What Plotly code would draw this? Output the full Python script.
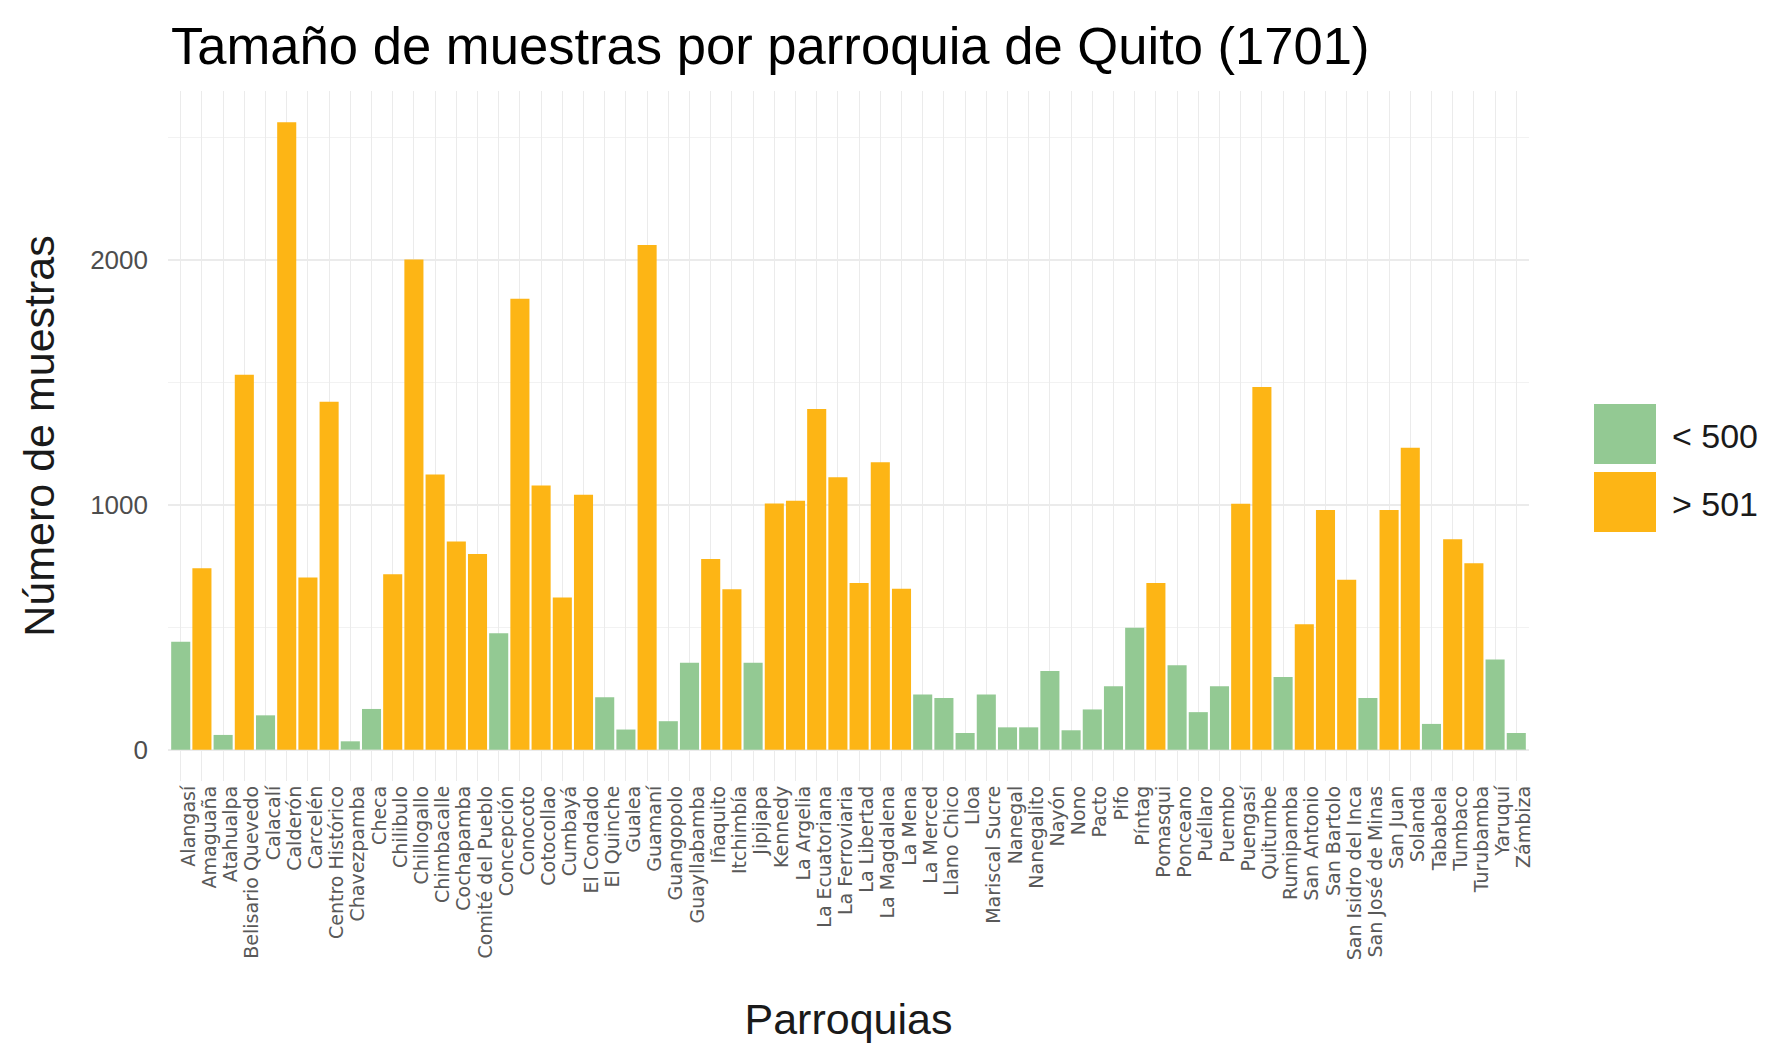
import plotly.graph_objects as go

# ---------------------------------------------------------------------------
# Datos
# ---------------------------------------------------------------------------

parroquias = [
    "Alangasí", "Amaguaña", "Atahualpa", "Belisario Quevedo", "Calacalí",
    "Calderón", "Carcelén", "Centro Histórico", "Chavezpamba", "Checa",
    "Chilibulo", "Chillogallo", "Chimbacalle", "Cochapamba", "Comité del Pueblo",
    "Concepción", "Conocoto", "Cotocollao", "Cumbayá", "El Condado",
    "El Quinche", "Gualea", "Guamaní", "Guangopolo", "Guayllabamba",
    "Iñaquito", "Itchimbía", "Jipijapa", "Kennedy", "La Argelia",
    "La Ecuatoriana", "La Ferroviaria", "La Libertad", "La Magdalena", "La Mena",
    "La Merced", "Llano Chico", "Lloa", "Mariscal Sucre", "Nanegal",
    "Nanegalito", "Nayón", "Nono", "Pacto", "Pifo",
    "Píntag", "Pomasqui", "Ponceano", "Puéllaro", "Puembo",
    "Puengasí", "Quitumbe", "Rumipamba", "San Antonio", "San Bartolo",
    "San Isidro del Inca", "San José de Minas", "San Juan", "Solanda", "Tababela",
    "Tumbaco", "Turubamba", "Yaruquí", "Zámbiza",
]

muestras = [
    440, 740, 60, 1530, 140,
    2560, 703, 1420, 34, 166,
    716, 2000, 1123, 849, 798,
    475, 1840, 1078, 621, 1040,
    214, 82, 2060, 116, 355,
    778, 655, 355, 1005, 1016,
    1390, 1112, 680, 1173, 657,
    225, 211, 68, 225, 91,
    91, 321, 79, 164, 259,
    497, 680, 344, 153, 259,
    1003, 1480, 296, 512, 978,
    693, 211, 978, 1232, 105,
    859, 761, 368, 68,
]

y_ticks = [0, 1000, 2000]
y_minor = [500, 1500, 2500]

leyenda_etiquetas = ["< 500", "> 501"]

# ---------------------------------------------------------------------------
# Estilo
# ---------------------------------------------------------------------------

VERDE = "#93C993"
NARANJA = "#FDB515"
GRID = "#EBEBEB"
UMBRAL = 500

W, H = 1775, 1043
PLOT_L, PLOT_R, PLOT_T, PLOT_B = 160, 1521, 83, 773


def px_x(px):
    return (px - PLOT_L) / (PLOT_R - PLOT_L)


def px_y(py):
    return (PLOT_B - py) / (PLOT_B - PLOT_T)


colores = [VERDE if m < UMBRAL else NARANJA for m in muestras]
ymax = max(muestras)

fig = go.Figure(
    go.Bar(
        x=parroquias,
        y=muestras,
        marker=dict(color=colores, line_width=0),
        showlegend=False,
        hovertemplate="%{x}: %{y}<extra></extra>",
    )
)

# --- Leyenda dibujada a mano (claves grandes como en ggplot) ---
leyenda_colores = [VERDE, NARANJA]
caja_top = [396, 464]
for etiqueta, color, top in zip(leyenda_etiquetas, leyenda_colores, caja_top):
    fig.add_shape(
        type="rect", xref="paper", yref="paper",
        x0=px_x(1586), x1=px_x(1648), y0=px_y(top + 60), y1=px_y(top),
        fillcolor=color, line_width=0,
    )
    fig.add_annotation(
        xref="paper", yref="paper",
        x=px_x(1662), y=px_y(top + 32),
        text=etiqueta, showarrow=False,
        xanchor="left", yanchor="middle",
        font=dict(family="Liberation Sans, Arial", size=34, color="#1A1A1A"),
    )

fig.update_layout(
    width=W,
    height=H,
    margin=dict(l=PLOT_L, r=W - PLOT_R, t=PLOT_T, b=H - PLOT_B),
    paper_bgcolor="white",
    plot_bgcolor="white",
    bargap=0.1,
    font=dict(family="Liberation Sans, Arial", color="#1A1A1A"),
    title=dict(
        text="Tamaño de muestras por parroquia de Quito (1701)",
        x=163 / W, xanchor="left", xref="container",
        y=1 - 38 / H, yanchor="middle", yref="container",
        font=dict(size=52.6, color="#000000"),
    ),
    xaxis=dict(
        type="category",
        categoryorder="array",
        categoryarray=parroquias,
        range=[-0.6, len(parroquias) - 0.4],
        tickmode="array",
        tickvals=parroquias,
        ticktext=parroquias,
        showgrid=True, gridcolor=GRID, gridwidth=1.3,
        zeroline=False, showline=False, ticks="",
        tickangle=-90,
        tickfont=dict(family="DejaVu Sans", size=19, color="#595959"),
        ticklabelshift=8,
        title=dict(text="Parroquias", font=dict(size=43), standoff=44),
        automargin=False,
    ),
    yaxis=dict(
        range=[-0.05 * ymax, 1.05 * ymax],
        tickvals=y_ticks,
        showgrid=True, gridcolor=GRID, gridwidth=1.5,
        minor=dict(tickvals=y_minor, showgrid=True, gridcolor="#F2F2F2", gridwidth=0.9),
        zeroline=False, showline=False, ticks="",
        tickfont=dict(size=26, color="#4D4D4D"),
        ticklabelstandoff=19,
        title=dict(text="Número de muestras", font=dict(size=43), standoff=22),
        automargin=False,
    ),
)

fig.write_html("out.html")
